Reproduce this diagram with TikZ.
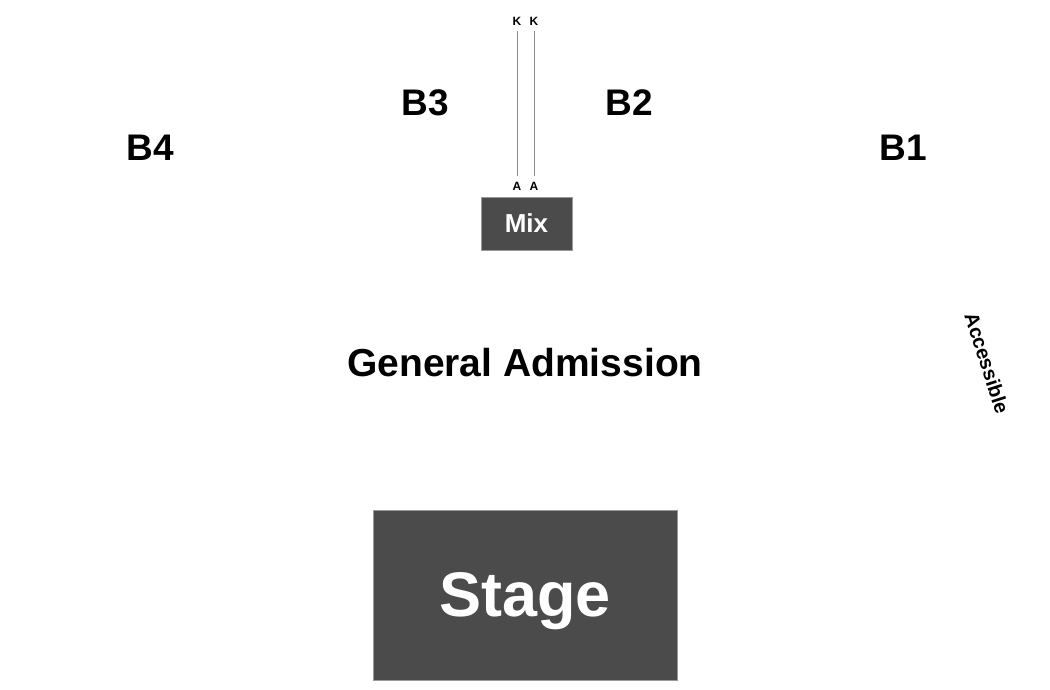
\documentclass[tikz,border=0pt]{standalone}
\usepackage{fontspec}
\setmainfont{Liberation Sans}
\definecolor{boxfill}{HTML}{4B4B4B}
\definecolor{boxline}{HTML}{9A9A9A}
\definecolor{wire}{HTML}{8C8C8C}
\tikzset{
  section/.style={font=\fontsize{37}{37}\selectfont\bfseries, inner sep=0pt, anchor=center},
  tinylbl/.style={font=\fontsize{12}{12}\selectfont\bfseries, inner sep=0pt, anchor=center},
  darkbox/.style={fill=boxfill, draw=boxline, line width=1pt, text=white, font=\bfseries, inner sep=0pt, text depth=0pt},
  wireline/.style={draw=wire, line width=0.9pt, shorten <=6pt, shorten >=6pt},
}
\begin{document}
\begin{tikzpicture}[x=1pt,y=-1pt]
\useasboundingbox (0,0) rectangle (1050,690);
% stage
\node[darkbox, minimum width=304pt, minimum height=170pt, font=\fontsize{63}{63}\selectfont\bfseries] (stage) at (525,595) {Stage};
% mix
\node[darkbox, minimum width=91pt, minimum height=53pt, font=\fontsize{26}{26}\selectfont\bfseries] (mix) at (526.5,223.5) {Mix};
% labels K and A
\node[tinylbl] (k1) at (517,21) {K};
\node[tinylbl] (k2) at (534,21) {K};
\node[tinylbl] (a1) at (517,186) {A};
\node[tinylbl] (a2) at (534,186) {A};
\draw[wireline] (k1.south) -- (a1.north);
\draw[wireline] (k2.south) -- (a2.north);
% sections
\node[section] (b3) at (425,103) {B3};
\node[section] (b2) at (629,103) {B2};
\node[section] (b4) at (150,148) {B4};
\node[section] (b1) at (903,148) {B1};
\node[font=\fontsize{39}{39}\selectfont\bfseries, inner sep=0pt] (ga) at (525,363) {General Admission};
\node[font=\fontsize{20}{20}\selectfont\bfseries, inner sep=0pt, rotate=-72] (acc) at (987,363) {Accessible};
\end{tikzpicture}
\end{document}
